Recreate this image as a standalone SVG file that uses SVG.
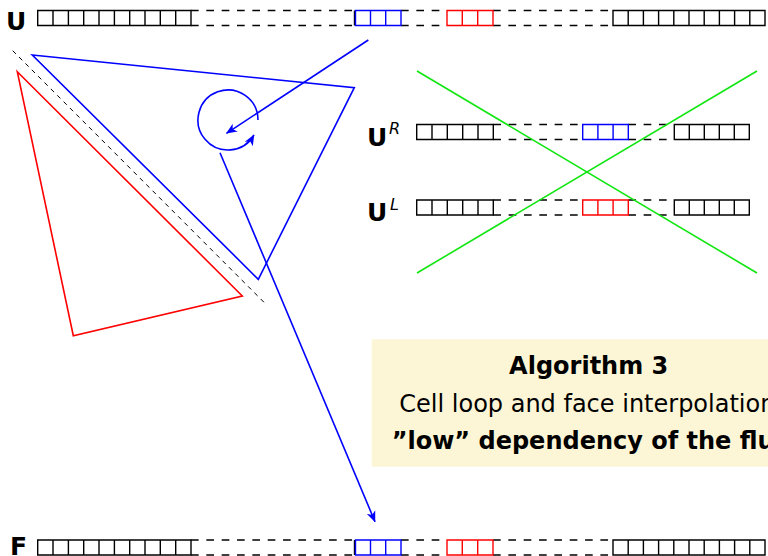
<svg xmlns="http://www.w3.org/2000/svg" xmlns:xlink="http://www.w3.org/1999/xlink" width="768" height="556" viewBox="0 0 768 556">
<style>
.blk{fill:none;stroke:#000;stroke-width:1.4}
.dash{fill:none;stroke:#000;stroke-width:1.5;stroke-dasharray:7.67 7.67}
.bl{fill:none;stroke:#0000ff;stroke-width:1.4}
.rd{fill:none;stroke:#ff0000;stroke-width:1.4}
.lbl{font-family:"DejaVu Sans",sans-serif;font-weight:bold;font-size:25px;fill:#000}
.sup{font-family:"DejaVu Sans",sans-serif;font-style:italic;font-size:16px;fill:#000}
.tri{fill:none;stroke-width:1.6;stroke-linejoin:miter}
.conn{fill:none;stroke:#0000ff;stroke-width:1.6}
.grn{fill:none;stroke:#11e611;stroke-width:1.6}
.box{font-family:"DejaVu Sans",sans-serif;font-size:24px;fill:#000}
</style>
<defs>
<marker id="ah" viewBox="0 0 10 10" refX="9.5" refY="5" markerWidth="11" markerHeight="11" markerUnits="userSpaceOnUse" orient="auto">
<path d="M0,0.8 L10,5 L0,9.2 L2.8,5 Z" fill="#0000ff"/>
</marker>
<g id="longrow">
<path class="blk" d="M37.7 0H191V15H37.7Z M53 0v15 M68.4 0v15 M83.7 0v15 M99 0v15 M114.4 0v15 M129.7 0v15 M145 0v15 M160.3 0v15 M175.7 0v15"/>
<path class="dash" d="M191 0H354 M191 15H354 M401 0H447 M401 15H447 M493 0H613 M493 15H613"/>
<path class="blk" d="M354.5 0v15"/>
<path class="bl" d="M355.5 0H401V15H355.5Z M370.5 0v15 M385.7 0v15"/>
<path class="rd" d="M447 0H493V15H447Z M462.3 0v15 M477.7 0v15"/>
<path class="blk" d="M613 0H765V15H613Z M628.2 0v15 M643.4 0v15 M658.6 0v15 M673.8 0v15 M689 0v15 M704.2 0v15 M719.4 0v15 M734.6 0v15 M749.8 0v15"/>
</g>
<g id="shortrow">
<path class="blk" d="M416.7 0H493.3V15H416.7Z M432 0v15 M447.3 0v15 M462.7 0v15 M478 0v15"/>
<path class="dash" d="M493.3 0H582.7 M493.3 15H582.7 M628.3 0H674.3 M628.3 15H674.3"/>
<path class="blk" d="M674.3 0H749.3V15H674.3Z M689.3 0v15 M704.3 0v15 M719.3 0v15 M734.3 0v15"/>
</g>
</defs>
<rect width="768" height="556" fill="#fff"/>

<g id="algorithm-box">
<rect x="371.7" y="339.3" width="420" height="127.4" fill="#fcf6d6"/>
<text class="box" x="588.7" y="374" text-anchor="middle" font-weight="bold">Algorithm 3</text>
<text class="box" x="399.3" y="412">Cell loop and face interpolation</text>
<text class="box" x="391.7" y="449" font-weight="bold">”low” dependency of the flux</text>
</g>

<g id="row-U">
<text class="lbl" x="6" y="29.5">U</text>
<use xlink:href="#longrow" href="#longrow" y="10.5"/>
</g>
<g id="row-F">
<text class="lbl" x="10" y="555">F</text>
<use xlink:href="#longrow" href="#longrow" y="540"/>
</g>
<g id="row-UR">
<text class="lbl" x="367" y="146">U</text>
<text class="sup" x="389" y="134">R</text>
<use xlink:href="#shortrow" href="#shortrow" y="124.5"/>
<path class="bl" d="M582.7 124.5H628.3V139.5H582.7Z M597.9 124.5v15 M613.1 124.5v15"/>
</g>
<g id="row-UL">
<text class="lbl" x="367" y="221">U</text>
<text class="sup" x="390" y="210">L</text>
<use xlink:href="#shortrow" href="#shortrow" y="200"/>
<path class="rd" d="M582.7 200H628.3V215H582.7Z M597.9 200v15 M613.1 200v15"/>
</g>
<g id="cross">
<path class="grn" d="M417 71L757 273 M757 71L417 273"/>
</g>

<g id="face">
<path d="M12.7 50.7L266.7 305" fill="none" stroke="#000" stroke-width="1" stroke-dasharray="4.5 4.5"/>
</g>
<g id="cell-blue">
<path class="tri" stroke="#0000ff" d="M32.3 55L354.3 87.7L258.3 279.3Z"/>
</g>
<g id="cell-red">
<path class="tri" stroke="#ff0000" d="M17.3 71.7L242.3 296L73.3 335.7Z"/>
</g>

<g id="connectors">
<path class="conn" d="M368.3 40L226.5 133.3" marker-end="url(#ah)"/>
<path class="conn" d="M258 120A30 30 0 1 0 254 135" marker-end="url(#ah)"/>
<path class="conn" d="M220 152.7L375 521.7" marker-end="url(#ah)"/>
</g>
</svg>
